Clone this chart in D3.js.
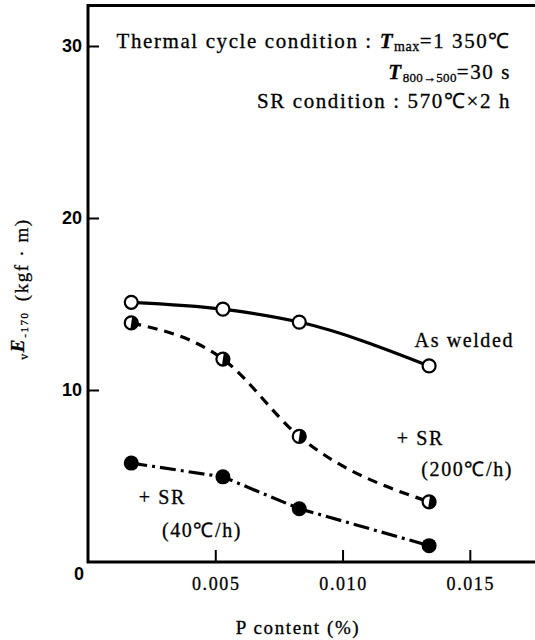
<!DOCTYPE html>
<html>
<head>
<meta charset="utf-8">
<script src="https://cdn.jsdelivr.net/npm/d3@7"></script>
<style>
  body { margin: 0; background: #fff; }
  svg { display: block; }
  .serif { font-family: "Liberation Serif", "Times New Roman", serif; stroke: #000; stroke-width: 0.3px; letter-spacing: 1.6px; }
  .sans { font-family: "Liberation Sans", Arial, sans-serif; }
</style>
</head>
<body>
<svg id="chart" width="535" height="640"></svg>
<script>
// data
var pContent = [0.0017, 0.0053, 0.0083, 0.0134];
var asWelded = [15.1, 14.7, 13.95, 11.4];
var sr200 = [13.9, 11.8, 7.3, 3.5];
var sr40 = [5.75, 4.95, 3.1, 0.95];
var yTicks = [0, 10, 20, 30];
var xTicks = [0.005, 0.010, 0.015];

var svg = d3.select('#chart');

var x = d3.scaleLinear().domain([0, 0.0176]).range([88, 536]);
var y = d3.scaleLinear().domain([0, 30]).range([562, 46]);

// frame: left, top and bottom
svg.append('path')
    .attr('d', 'M536,' + y(32.35) + 'H' + x(0) + 'V' + y(0) + 'H536')
    .attr('fill', 'none')
    .attr('stroke', '#000')
    .attr('stroke-width', 3);

// ticks pointing inward
var yAxis = svg.append('g').attr('transform', 'translate(' + x(0) + ',0)')
    .call(d3.axisRight(y).tickValues(yTicks.slice(1)).tickSize(11).tickFormat(''));
yAxis.select('.domain').remove();
yAxis.selectAll('line').attr('stroke-width', 2);

var xAxis = svg.append('g').attr('transform', 'translate(0,' + y(0) + ')')
    .call(d3.axisTop(x).tickValues(xTicks).tickSize(12).tickFormat(''));
xAxis.select('.domain').remove();
xAxis.selectAll('line').attr('stroke-width', 2);

// tick labels
svg.selectAll('.ylab').data(yTicks).enter().append('text')
    .attr('class', 'sans')
    .attr('x', function (d) { return d === 0 ? 84 : 82; })
    .attr('y', function (d) { return d === 0 ? 580 : y(d) + 6; })
    .attr('text-anchor', 'end')
    .attr('font-size', 18)
    .attr('font-weight', 'bold')
    .text(function (d) { return d; });

svg.selectAll('.xlab').data(xTicks).enter().append('text')
    .attr('class', 'serif')
    .attr('x', function (d) { return x(d) + 1; })
    .attr('y', 590)
    .attr('text-anchor', 'middle')
    .attr('font-size', 18)
    .text(function (d) { return d3.format('.3f')(d); });

// axis titles
svg.append('text').attr('class', 'serif')
    .attr('x', 298).attr('y', 634)
    .attr('text-anchor', 'middle')
    .attr('font-size', 19)
    .attr('letter-spacing', 2)
    .text('P content (%)');

var yt = svg.append('text').attr('class', 'serif')
    .attr('transform', 'translate(28,289) rotate(-90)')
    .attr('text-anchor', 'middle')
    .attr('font-size', 19);
yt.append('tspan').attr('font-size', 12).attr('dy', 0).text('v');
yt.append('tspan').attr('font-style', 'italic').attr('font-weight', 'bold').attr('dy', -4).text('E');
yt.append('tspan').attr('font-size', 11).attr('dy', 4).text('-170');
yt.append('tspan').attr('dx', 10).text('(kgf · m)');

// condition note
var note = svg.append('g').attr('class', 'serif').attr('font-size', 21).attr('text-anchor', 'end')
    .attr('letter-spacing', 1.4);
var l1 = note.append('text').attr('x', 511).attr('y', 48);
l1.append('tspan').text('Thermal cycle condition : ');
l1.append('tspan').attr('font-style', 'italic').attr('font-weight', 'bold').text('T');
l1.append('tspan').attr('font-size', 14).attr('dy', 3).attr('letter-spacing', 0.5).text('max');
l1.append('tspan').attr('dy', -3).text('=1 350℃');
var l2 = note.append('text').attr('x', 511).attr('y', 79);
l2.append('tspan').attr('font-style', 'italic').attr('font-weight', 'bold').text('T');
l2.append('tspan').attr('font-size', 13).attr('dy', 3).attr('letter-spacing', 0.3).text('800→500');
l2.append('tspan').attr('dy', -3).text('=30 s');
note.append('text').attr('x', 511).attr('y', 108).text('SR condition : 570℃×2 h');

// series lines
function pts(vals) { return pContent.map(function (p, i) { return [p, vals[i]]; }); }
var smooth = d3.line().x(function (d) { return x(d[0]); }).y(function (d) { return y(d[1]); })
    .curve(d3.curveMonotoneX);
var straight = d3.line().x(function (d) { return x(d[0]); }).y(function (d) { return y(d[1]); });

svg.append('path').attr('d', smooth(pts(asWelded)))
    .attr('fill', 'none').attr('stroke', '#000').attr('stroke-width', 3.2);
svg.append('path').attr('d', smooth(pts(sr200)))
    .attr('fill', 'none').attr('stroke', '#000').attr('stroke-width', 3.2)
    .attr('stroke-dasharray', '10,7');
svg.append('path').attr('d', straight(pts(sr40)))
    .attr('fill', 'none').attr('stroke', '#000').attr('stroke-width', 3.2)
    .attr('stroke-dasharray', '16,5,3,5');

// markers
var r = 6.5;
svg.selectAll('.open').data(pts(asWelded)).enter().append('circle')
    .attr('cx', function (d) { return x(d[0]); }).attr('cy', function (d) { return y(d[1]); })
    .attr('r', r).attr('fill', '#fff').attr('stroke', '#000').attr('stroke-width', 2.2);

var half = svg.selectAll('.half').data(pts(sr200)).enter().append('g')
    .attr('transform', function (d) { return 'translate(' + x(d[0]) + ',' + y(d[1]) + ')'; });
half.append('circle').attr('r', r).attr('fill', '#fff').attr('stroke', '#000').attr('stroke-width', 2.2);
half.append('path')
    .attr('d', d3.arc().innerRadius(0).outerRadius(r)({ startAngle: 0.15, endAngle: Math.PI + 0.15 }))
    .attr('fill', '#000');

svg.selectAll('.full').data(pts(sr40)).enter().append('circle')
    .attr('cx', function (d) { return x(d[0]); }).attr('cy', function (d) { return y(d[1]); })
    .attr('r', r + 1).attr('fill', '#000');

// series labels
var labels = [
    { t: 'As welded', x: 514, y: 347 },
    { t: '+ SR', x: 444, y: 445 },
    { t: '(200℃/h)', x: 513, y: 476 },
    { t: '+ SR', x: 186, y: 504 },
    { t: '(40℃/h)', x: 242, y: 537 }
];
svg.selectAll('.slab').data(labels).enter().append('text')
    .attr('class', 'serif')
    .attr('x', function (d) { return d.x; }).attr('y', function (d) { return d.y; })
    .attr('text-anchor', 'end')
    .attr('font-size', 20)
    .text(function (d) { return d.t; });
</script>
</body>
</html>
